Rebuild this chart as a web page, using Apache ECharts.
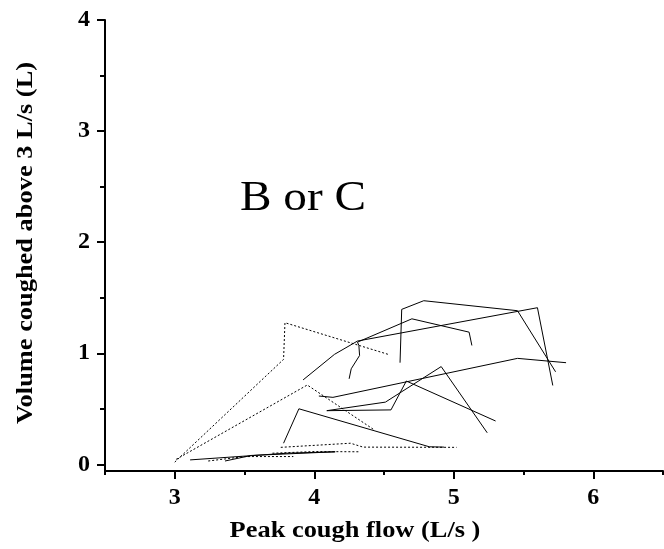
<!DOCTYPE html>
<html>
<head>
<meta charset="utf-8">
<script src="https://cdn.jsdelivr.net/npm/echarts@6/dist/echarts.min.js"></script>
<style>
html,body{margin:0;padding:0;background:#fff;}
#chart{width:664px;height:549px;}
</style>
</head>
<body>
<div id="chart"></div>
<script>
// ---- data ----
const xMajorTicks = [3, 4, 5, 6];
const xMinorTicks = [2.5, 3.5, 4.5, 5.5, 6.5];
const yMajorTicks = [0, 1, 2, 3, 4];
const yMinorTicks = [0.5, 1.5, 2.5, 3.5];

const xTitle = 'Peak cough flow (L/s )';
const yTitle = 'Volume coughed above 3 L/s (L)';
const panelLabel = 'B or C';

// solid traces
const solidA = [[3.92, 0.76], [4.145, 0.99], [4.31, 1.11], [5.60, 1.41], [5.71, 0.71]];
const solidB = [[4.25, 0.77], [4.265, 0.86], [4.325, 0.98], [4.32, 1.07], [4.31, 1.10], [4.70, 1.31], [5.11, 1.19], [5.13, 1.07]];
const solidC = [[4.615, 0.915], [4.627, 1.395], [4.785, 1.473], [5.457, 1.383], [5.73, 0.833]];
const solidD = [[4.033, 0.615], [4.134, 0.603], [5.457, 0.954], [5.805, 0.915]];
const solidE1 = [[4.09, 0.483], [4.51, 0.56], [4.91, 0.88], [5.24, 0.284]];
const solidE2 = [[4.09, 0.483], [4.55, 0.49], [4.66, 0.75], [5.30, 0.39]];
const solidLow = [[3.78, 0.19], [3.89, 0.50], [4.825, 0.158], [4.93, 0.155]];
const solidBottom1 = [[3.11, 0.04], [3.80, 0.10], [4.15, 0.113]];
const solidBottom2 = [[3.36, 0.03], [3.55, 0.08], [4.15, 0.113]];

// dotted traces
const dashed1 = [[3.0, 0.02], [3.78, 0.945], [3.79, 1.275], [4.53, 0.99]];
const dashed2 = [[3.01, 0.045], [3.95, 0.714], [4.43, 0.31]];
const dashed3 = [[3.76, 0.153], [4.26, 0.19], [4.35, 0.155], [5.02, 0.153]];
const dashedBottom1 = [[3.24, 0.03], [3.50, 0.07], [3.85, 0.07]];
const dashedBottom2 = [[3.70, 0.10], [4.00, 0.115], [4.33, 0.113]];

const solidSeries = [solidA, solidB, solidC, solidD, solidE1, solidE2, solidLow, solidBottom1, solidBottom2];
const dashedSeries = [dashed1, dashed2, dashed3, dashedBottom1, dashedBottom2];

// ---- chart ----
const chart = echarts.init(document.getElementById('chart'), null, {renderer: 'canvas'});
const serif = '"Liberation Serif", "Times New Roman", serif';

const series = [];
solidSeries.forEach(d => series.push({
  type: 'line', data: d, symbol: 'none', xAxisIndex: 0, yAxisIndex: 0,
  lineStyle: {color: '#000', width: 1, type: 'solid'}, silent: true
}));
dashedSeries.forEach(d => series.push({
  type: 'line', data: d, symbol: 'none', xAxisIndex: 0, yAxisIndex: 0,
  lineStyle: {color: '#000', width: 1, type: [2, 2]}, silent: true
}));

const grid = {left: 105, right: 1, top: 20, bottom: 78, containLabel: false};

chart.setOption({
  animation: false,
  backgroundColor: '#fff',
  grid: grid,
  xAxis: [{
    type: 'value', min: 2.5, max: 6.5, position: 'bottom',
    axisLine: {show: true, onZero: false, lineStyle: {color: '#000', width: 2}},
    axisTick: {show: true, length: 8, customValues: xMajorTicks, lineStyle: {color: '#000', width: 2}},
    axisLabel: {show: true, customValues: xMajorTicks, margin: 15, color: '#000',
      fontFamily: serif, fontWeight: 'bold', fontSize: 24},
    splitLine: {show: false}
  }, {
    type: 'value', min: 2.5, max: 6.5, position: 'bottom',
    axisLine: {show: false, onZero: false},
    axisTick: {show: true, length: 4, customValues: xMinorTicks, lineStyle: {color: '#000', width: 2}},
    axisLabel: {show: false, customValues: xMinorTicks},
    splitLine: {show: false}
  }],
  yAxis: [{
    type: 'value', min: -0.06, max: 4, position: 'left',
    axisLine: {show: true, onZero: false, lineStyle: {color: '#000', width: 2}},
    axisTick: {show: true, length: 8, customValues: yMajorTicks, lineStyle: {color: '#000', width: 2}},
    axisLabel: {show: true, customValues: yMajorTicks, margin: 15, color: '#000',
      fontFamily: serif, fontWeight: 'bold', fontSize: 24},
    splitLine: {show: false}
  }, {
    type: 'value', min: -0.06, max: 4, position: 'left',
    axisLine: {show: false, onZero: false},
    axisTick: {show: true, length: 5, customValues: yMinorTicks, lineStyle: {color: '#000', width: 2}},
    axisLabel: {show: false, customValues: yMinorTicks},
    splitLine: {show: false}
  }],
  graphic: [{
    type: 'text', x: 355, y: 531, scaleX: 1.1, silent: true,
    style: {text: xTitle, fill: '#000', font: 'bold 24px ' + serif, align: 'center', verticalAlign: 'middle'}
  }, {
    type: 'text', x: 26, y: 243, scaleX: 1.1, rotation: Math.PI / 2, silent: true,
    style: {text: yTitle, fill: '#000', font: 'bold 24px ' + serif, align: 'center', verticalAlign: 'middle'}
  }, {
    type: 'text', x: 303, y: 199, scaleX: 1.1, silent: true,
    style: {text: panelLabel, fill: '#000', font: '43px ' + serif, align: 'center', verticalAlign: 'middle'}
  }],
  series: series
});
</script>
</body>
</html>
